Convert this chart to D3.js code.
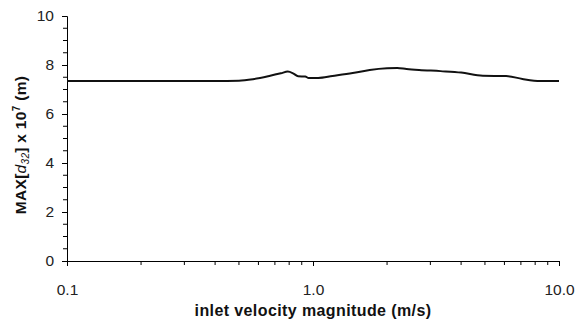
<!DOCTYPE html>
<html>
<head>
<meta charset="utf-8">
<script src="https://cdn.jsdelivr.net/npm/d3@7"></script>
<style>
  body { margin: 0; background: #fff; }
  svg { font-family: "Liberation Sans", Arial, sans-serif; }
</style>
</head>
<body>
<div id="chart"></div>
<script>
// velocity (m/s) and max d32 (x1e-7 m)
const velocity = [0.1, 0.2, 0.3, 0.4, 0.5, 0.57, 0.67, 0.74, 0.79, 0.83, 0.87, 0.93, 0.96, 1.05, 1.2, 1.45, 1.7, 2.0, 2.2, 2.4, 2.7, 3.3, 4.0, 4.9, 6.1, 7.1, 8.4, 10.0];
const d32max   = [7.35, 7.35, 7.35, 7.35, 7.36, 7.42, 7.56, 7.66, 7.73, 7.66, 7.54, 7.53, 7.47, 7.47, 7.55, 7.67, 7.8, 7.87, 7.88, 7.84, 7.8, 7.75, 7.69, 7.56, 7.55, 7.43, 7.35, 7.35];
const yTicks = [0, 2, 4, 6, 8, 10];
const xTicks = [0.1, 1, 10];

const width = 581, height = 324;
const margin = {top: 16, right: 22, bottom: 63, left: 67};

const svg = d3.select("#chart").append("svg")
    .attr("width", width)
    .attr("height", height);

const x = d3.scaleLog()
    .domain([0.1, 10])
    .range([margin.left, width - margin.right]);

const y = d3.scaleLinear()
    .domain([0, 10])
    .range([height - margin.bottom, margin.top]);

// minor ticks
const xMinor = [];
[0.1, 1].forEach(dec => { for (let i = 2; i <= 9; i++) xMinor.push(dec * i); });
const yMinor = d3.range(0, 10.01, 0.5).filter(v => v % 2 !== 0);

const axisColor = "#000";

// y axis
const gy = svg.append("g")
    .attr("transform", `translate(${margin.left},0)`)
    .call(d3.axisLeft(y).tickValues(yTicks).tickSize(5).tickPadding(8).tickFormat(d3.format("d")));
gy.selectAll(".tick text").attr("font-size", 15.5).attr("fill", "#222");
gy.select(".domain").attr("stroke", axisColor);

svg.append("g")
    .selectAll("line")
    .data(yMinor)
    .join("line")
    .attr("x1", margin.left - 4)
    .attr("x2", margin.left)
    .attr("y1", d => y(d))
    .attr("y2", d => y(d))
    .attr("stroke", axisColor);

// x axis
const gx = svg.append("g")
    .attr("transform", `translate(0,${height - margin.bottom})`)
    .call(d3.axisBottom(x).tickValues(xTicks).tickSize(5).tickPadding(18).tickFormat(d3.format(".1f")));
gx.selectAll(".tick text").attr("font-size", 15.5).attr("fill", "#222");
gx.select(".domain").attr("stroke", axisColor);

svg.append("g")
    .selectAll("line")
    .data(xMinor)
    .join("line")
    .attr("x1", d => x(d))
    .attr("x2", d => x(d))
    .attr("y1", height - margin.bottom)
    .attr("y2", height - margin.bottom + 4)
    .attr("stroke", axisColor);

// line
const line = d3.line()
    .x((d, i) => x(velocity[i]))
    .y(d => y(d))
    .curve(d3.curveMonotoneX);

svg.append("path")
    .datum(d32max)
    .attr("fill", "none")
    .attr("stroke", "#111")
    .attr("stroke-width", 2)
    .attr("d", line);

// axis titles
svg.append("text")
    .attr("x", x(1))
    .attr("y", 316)
    .attr("text-anchor", "middle")
    .attr("font-size", 16)
    .attr("letter-spacing", 0.4)
    .attr("font-weight", "bold")
    .attr("fill", "#111")
    .text("inlet velocity magnitude (m/s)");

const yt = svg.append("text")
    .attr("transform", `translate(26,145) rotate(-90)`)
    .attr("text-anchor", "middle")
    .attr("font-size", 15.5)
    .attr("letter-spacing", 0.3)
    .attr("font-weight", "bold")
    .attr("fill", "#111");
yt.append("tspan").text("MAX[");
yt.append("tspan").attr("font-style", "italic").attr("font-weight", "normal").text("d");
yt.append("tspan").attr("font-style", "italic").attr("font-weight", "normal").attr("font-size", 10).attr("dy", 3).text("32");
yt.append("tspan").attr("dy", -3).text("] x 10");
yt.append("tspan").attr("font-size", 10).attr("dy", -6).text("7");
yt.append("tspan").attr("dy", 6).text(" (m)");
</script>
</body>
</html>
